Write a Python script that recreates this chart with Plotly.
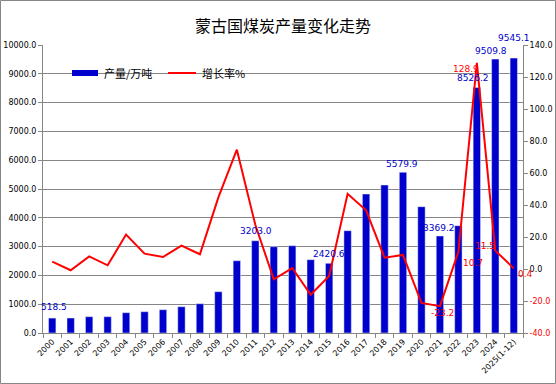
import plotly.graph_objects as go

years = [str(y) for y in range(2000, 2025)] + ["2025(1-12)"]
output = [518.5, 520, 566, 566, 705, 740, 809, 913, 1017, 1434, 2510, 3203.0,
          2997, 3031, 2545, 2420.6, 3552, 4826, 5139, 5579.9, 4386, 3369.2,
          3726, 8526.2, 9509.8, 9545.1]
growth = [4.6, -0.8, 7.9, 2.3, 21.5, 9.6, 7.5, 14.6, 9.2, 44.8, 74.6, 27.6,
          -6.4, 0.6, -16.0, -4.4, 47.0, 36.7, 7.1, 8.8, -21.2, -23.2,
          10.7, 128.9, 11.5, 0.4]
bar_labels = {"2000": (2, 11), "2011": (1, 10), "2015": (0, 9), "2019": (-1, 8),
              "2021": (-1, 8), "2023": (-4, 9), "2024": (-4, 8), "2025(1-12)": (0, 20)}
line_labels = {"2021": (3, -7), "2022": (15, -11), "2023": (-11, -6),
               "2024": (-10, 5), "2025(1-12)": (12, -6)}

BLUE = "#0000CC"
RED = "#FF0000"
GRID = "#868686"
NUM_FONT = "DejaVu Sans"
CJK = "Noto Sans CJK SC"

fig = go.Figure()
fig.add_trace(go.Bar(x=years, y=output, marker_color=BLUE, width=0.4,
                     name="产量/万吨", showlegend=False))
fig.add_trace(go.Scatter(x=years, y=growth, yaxis="y2", mode="lines",
                         line=dict(color=RED, width=2), name="增长率%",
                         showlegend=False))

ann = []
for yr, (dx, dy) in bar_labels.items():
    i = years.index(yr)
    ann.append(dict(x=i, y=output[i], xref="x", yref="y", text=f"{output[i]:.1f}",
                    showarrow=False, xshift=dx, yshift=dy, yanchor="middle",
                    font=dict(family=NUM_FONT, size=9, color=BLUE)))
for yr, (dx, dy) in line_labels.items():
    i = years.index(yr)
    ann.append(dict(x=i, y=growth[i], xref="x", yref="y2", text=f"{growth[i]:.1f}",
                    showarrow=False, xshift=dx, yshift=dy, yanchor="middle",
                    font=dict(family=NUM_FONT, size=9, color=RED)))

L, R, T, B = 43, 33, 45, 51
W, H = 556 - L - R, 384 - T - B
def px(x):
    return (x - L) / W
def py(y):
    return (384 - B - y) / H

ann.append(dict(x=0.5, y=py(25), xref="paper", yref="paper", text="蒙古国煤炭产量变化走势",
                showarrow=False, yanchor="middle",
                font=dict(family=CJK, size=16, color="#000000")))
ann.append(dict(x=px(102), y=py(73), xref="paper", yref="paper", text="产量/万吨",
                showarrow=False, xanchor="left", yanchor="middle",
                font=dict(family=CJK, size=11, color="#000000")))
ann.append(dict(x=px(200), y=py(73), xref="paper", yref="paper", text="增长率%",
                showarrow=False, xanchor="left", yanchor="middle",
                font=dict(family=CJK, size=11, color="#000000")))

shapes = [
    dict(type="rect", xref="paper", yref="paper", x0=px(72), x1=px(98),
         y0=py(76), y1=py(70), fillcolor=BLUE, line=dict(width=0)),
    dict(type="line", xref="paper", yref="paper", x0=px(168), x1=px(196),
         y0=py(73), y1=py(73), line=dict(color=RED, width=2)),
    dict(type="rect", xref="paper", yref="paper", x0=px(0.5), x1=px(555.5),
         y0=py(383.5), y1=py(0.5), line=dict(color=GRID, width=1),
         fillcolor="rgba(0,0,0,0)", layer="below"),
]

y2_vals = list(range(-40, 141, 20))
y2_text = [f"<span style='color:{RED}'>{v:.1f}</span>" if v < 0 else f"{v:.1f}" for v in y2_vals]

fig.update_layout(
    width=556, height=384,
    margin=dict(l=L, r=R, t=T, b=B, autoexpand=False),
    paper_bgcolor="white", plot_bgcolor="white",
    showlegend=False,
    annotations=ann,
    shapes=shapes,
    xaxis=dict(type="category", range=[-0.5, len(years) - 0.5], tickangle=-45,
               tickson="boundaries", ticks="outside", ticklen=4, tickcolor=GRID,
               showline=True, linecolor=GRID, linewidth=1, showgrid=False,
               automargin=False,
               tickfont=dict(family=NUM_FONT, size=8, color="#000000")),
    yaxis=dict(range=[0, 10000], dtick=1000, tickformat=".1f", ticks="outside",
               ticklen=4, tickcolor=GRID, showline=True, linecolor=GRID,
               gridcolor=GRID, gridwidth=1, zeroline=False, automargin=False,
               tickfont=dict(family=NUM_FONT, size=8, color="#000000")),
    yaxis2=dict(range=[-40, 140], overlaying="y", side="right",
                tickvals=y2_vals, ticktext=y2_text, ticks="outside", ticklen=4,
                tickcolor=GRID, showline=True, linecolor=GRID, showgrid=False,
                zeroline=False, automargin=False,
                tickfont=dict(family=NUM_FONT, size=8, color="#000000")),
)

fig.write_html("out.html", config={"displayModeBar": False},
               post_script="document.body.style.margin='0';")
